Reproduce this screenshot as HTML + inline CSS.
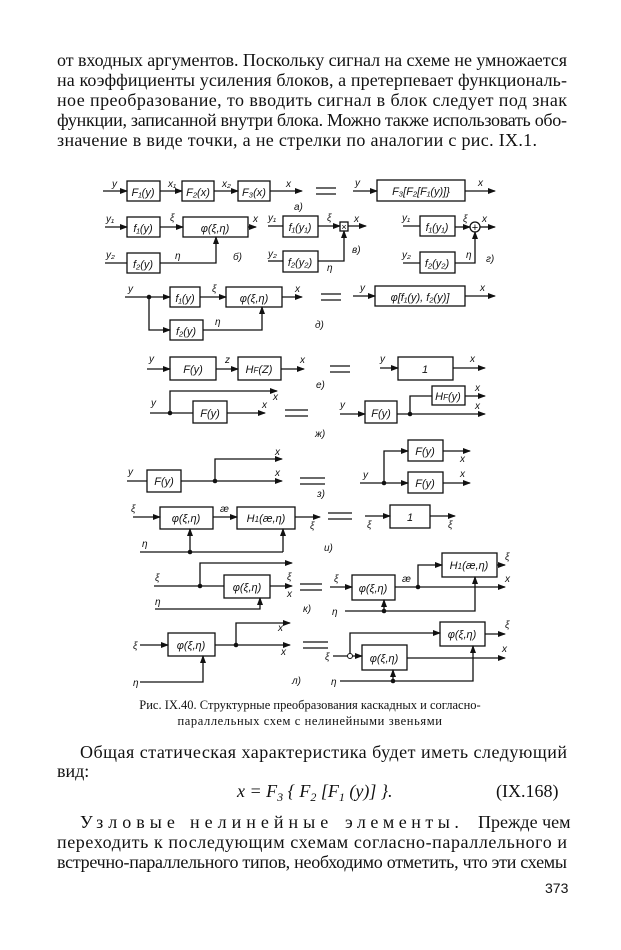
<!DOCTYPE html>
<html><head><meta charset="utf-8"><style>
html,body{margin:0;padding:0;background:#fff}
svg{display:block}
.t{font-family:"Liberation Serif","DejaVu Serif",serif;font-size:18px;fill:#111}
.c{font-family:"Liberation Serif","DejaVu Serif",serif;font-size:12.5px;fill:#111}
.d{font-family:"Liberation Sans","DejaVu Sans",sans-serif;font-size:11px;font-style:italic;fill:#111}
.l{font-family:"Liberation Sans","DejaVu Sans",sans-serif;font-size:10px;font-style:italic;fill:#111}
</style></head><body>
<svg width="621" height="950" viewBox="0 0 621 950" xmlns="http://www.w3.org/2000/svg">
<defs><marker id="a" markerWidth="8" markerHeight="6" refX="7" refY="3" orient="auto" markerUnits="userSpaceOnUse"><path d="M0,0 L8,3 L0,6 z" fill="#111"/></marker></defs>
<g class="t">
<text x="57" y="66" textLength="510" lengthAdjust="spacing">от входных аргументов. Поскольку сигнал на схеме не умножается</text>
<text x="57" y="86" textLength="510" lengthAdjust="spacing">на коэффициенты усиления блоков, а претерпевает функциональ-</text>
<text x="57" y="106" textLength="510" lengthAdjust="spacing">ное преобразование, то вводить сигнал в блок следует под знак</text>
<text x="57" y="126" textLength="510" lengthAdjust="spacing">функции, записанной внутри блока. Можно также использовать обо-</text>
<text x="57" y="146" textLength="480" lengthAdjust="spacing">значение в виде точки, а не стрелки по аналогии с рис. IX.1.</text>
<text x="80" y="758" textLength="487" lengthAdjust="spacing">Общая статическая характеристика будет иметь следующий</text>
<text x="57" y="777">вид:</text>
<text x="237" y="797" font-style="italic">x = F<tspan font-size="12" dy="4">3</tspan><tspan dy="-4"> { F</tspan><tspan font-size="12" dy="4">2</tspan><tspan dy="-4"> [F</tspan><tspan font-size="12" dy="4">1</tspan><tspan dy="-4"> (y)] }.</tspan></text>
<text x="496" y="797">(IX.168)</text>
<text x="80" y="828"><tspan letter-spacing="5">Узловые</tspan><tspan x="190" letter-spacing="5">нелинейные</tspan><tspan x="345" letter-spacing="4.5">элементы.</tspan><tspan x="478">Прежде чем</tspan></text>
<text x="57" y="848" textLength="510" lengthAdjust="spacing">переходить к последующим схемам согласно-параллельного и</text>
<text x="57" y="868" textLength="510" lengthAdjust="spacing">встречно-параллельного типов, необходимо отметить, что эти схемы</text>
<text x="545" y="893" font-family="Liberation Sans" font-size="14">373</text>
</g>
<g class="c" text-anchor="middle">
<text x="310" y="709">Рис. IX.40. Структурные преобразования каскадных и согласно-</text>
<text x="310" y="725" letter-spacing="0.6">параллельных схем с нелинейными звеньями</text>
</g>
<g stroke="#111" stroke-width="1.3" fill="none">
<rect x="127" y="181" width="33" height="20"/><rect x="182" y="181" width="32" height="20"/><rect x="238" y="181" width="32" height="20"/>
<line x1="103" y1="191" x2="127" y2="191" marker-end="url(#a)"/><line x1="160" y1="191" x2="182" y2="191" marker-end="url(#a)"/><line x1="214" y1="191" x2="238" y2="191" marker-end="url(#a)"/><line x1="270" y1="191" x2="302" y2="191" marker-end="url(#a)"/>
<line x1="316" y1="188" x2="336" y2="188"/><line x1="316" y1="194" x2="336" y2="194"/>
<rect x="377" y="180" width="88" height="21"/><line x1="353" y1="191" x2="377" y2="191" marker-end="url(#a)"/><line x1="465" y1="191" x2="495" y2="191" marker-end="url(#a)"/>
<rect x="127" y="217" width="33" height="20"/><rect x="183" y="217" width="65" height="20"/><rect x="127" y="253" width="33" height="20"/>
<line x1="105" y1="227" x2="127" y2="227" marker-end="url(#a)"/><line x1="160" y1="227" x2="183" y2="227" marker-end="url(#a)"/><line x1="248" y1="227" x2="256" y2="227" marker-end="url(#a)"/>
<line x1="105" y1="263" x2="127" y2="263"/><polyline points="160,263 216,263 216,237" marker-end="url(#a)"/>
<rect x="283" y="216" width="35" height="21"/><rect x="283" y="251" width="35" height="21"/><rect x="340" y="222" width="8" height="9"/>
<line x1="268" y1="226" x2="283" y2="226"/><line x1="318" y1="226" x2="340" y2="226" marker-end="url(#a)"/><line x1="348" y1="226" x2="366" y2="226" marker-end="url(#a)"/>
<line x1="268" y1="261" x2="283" y2="261"/><polyline points="318,261 344,261 344,231" marker-end="url(#a)"/>
<rect x="420" y="216" width="35" height="20"/><rect x="420" y="252" width="35" height="21"/><circle cx="475" cy="227" r="5"/>
<line x1="403" y1="226" x2="420" y2="226"/><line x1="455" y1="227" x2="470" y2="227" marker-end="url(#a)"/><line x1="480" y1="227" x2="495" y2="227" marker-end="url(#a)"/>
<line x1="403" y1="263" x2="420" y2="263"/><polyline points="455,263 475,263 475,232" marker-end="url(#a)"/>
<rect x="170" y="287" width="30" height="20"/><rect x="226" y="287" width="56" height="20"/><rect x="170" y="320" width="33" height="20"/>
<line x1="125" y1="297" x2="170" y2="297" marker-end="url(#a)"/><line x1="200" y1="297" x2="226" y2="297" marker-end="url(#a)"/><line x1="282" y1="297" x2="302" y2="297" marker-end="url(#a)"/>
<polyline points="149,297 149,330 170,330" marker-end="url(#a)"/><polyline points="203,330 262,330 262,307" marker-end="url(#a)"/>
<line x1="321" y1="294" x2="341" y2="294"/><line x1="321" y1="300" x2="341" y2="300"/>
<rect x="375" y="286" width="90" height="20"/><line x1="353" y1="296" x2="375" y2="296" marker-end="url(#a)"/><line x1="465" y1="296" x2="495" y2="296" marker-end="url(#a)"/>
<rect x="170" y="357" width="46" height="23"/><rect x="238" y="357" width="43" height="23"/>
<line x1="147" y1="369" x2="170" y2="369" marker-end="url(#a)"/><line x1="216" y1="369" x2="238" y2="369" marker-end="url(#a)"/><line x1="281" y1="369" x2="304" y2="369" marker-end="url(#a)"/>
<line x1="330" y1="366" x2="350" y2="366"/><line x1="330" y1="372" x2="350" y2="372"/>
<rect x="398" y="357" width="55" height="23"/><line x1="380" y1="368" x2="398" y2="368" marker-end="url(#a)"/><line x1="453" y1="368" x2="485" y2="368" marker-end="url(#a)"/>
<rect x="193" y="401" width="34" height="22"/>
<line x1="150" y1="413" x2="193" y2="413"/><line x1="227" y1="413" x2="265" y2="413" marker-end="url(#a)"/><polyline points="170,413 170,391 277,391" marker-end="url(#a)"/>
<line x1="285" y1="410" x2="308" y2="410"/><line x1="285" y1="416" x2="308" y2="416"/>
<rect x="365" y="401" width="32" height="22"/><rect x="432" y="386" width="33" height="19"/>
<line x1="340" y1="414" x2="365" y2="414" marker-end="url(#a)"/><line x1="397" y1="414" x2="485" y2="414" marker-end="url(#a)"/><polyline points="410,414 410,396 432,396"/><line x1="465" y1="396" x2="485" y2="396" marker-end="url(#a)"/>
<rect x="147" y="470" width="34" height="22"/>
<line x1="127" y1="481" x2="147" y2="481"/><line x1="181" y1="481" x2="282" y2="481" marker-end="url(#a)"/><polyline points="215,481 215,459 282,459" marker-end="url(#a)"/>
<line x1="300" y1="478" x2="325" y2="478"/><line x1="300" y1="484" x2="325" y2="484"/>
<rect x="408" y="440" width="35" height="21"/><rect x="408" y="472" width="35" height="21"/>
<line x1="360" y1="483" x2="408" y2="483" marker-end="url(#a)"/><polyline points="384,483 384,451 408,451" marker-end="url(#a)"/><line x1="443" y1="451" x2="470" y2="451" marker-end="url(#a)"/><line x1="443" y1="483" x2="470" y2="483" marker-end="url(#a)"/>
<rect x="160" y="507" width="53" height="22"/><rect x="237" y="507" width="58" height="22"/>
<line x1="133" y1="517" x2="160" y2="517" marker-end="url(#a)"/><line x1="213" y1="517" x2="237" y2="517" marker-end="url(#a)"/><line x1="295" y1="517" x2="320" y2="517" marker-end="url(#a)"/>
<line x1="140" y1="552" x2="283" y2="552"/><line x1="190" y1="552" x2="190" y2="529" marker-end="url(#a)"/><line x1="283" y1="552" x2="283" y2="529" marker-end="url(#a)"/>
<line x1="328" y1="513" x2="352" y2="513"/><line x1="328" y1="519" x2="352" y2="519"/>
<rect x="390" y="505" width="40" height="23"/><line x1="365" y1="516" x2="390" y2="516" marker-end="url(#a)"/><line x1="430" y1="516" x2="455" y2="516" marker-end="url(#a)"/>
<rect x="224" y="575" width="46" height="23"/>
<line x1="154" y1="586" x2="224" y2="586"/><line x1="270" y1="586" x2="292" y2="586" marker-end="url(#a)"/><polyline points="200,586 200,563 292,563" marker-end="url(#a)"/>
<polyline points="155,609 260,609 260,598" marker-end="url(#a)"/>
<line x1="300" y1="584" x2="322" y2="584"/><line x1="300" y1="590" x2="322" y2="590"/>
<rect x="352" y="575" width="43" height="25"/><rect x="442" y="553" width="55" height="24"/>
<line x1="330" y1="587" x2="352" y2="587" marker-end="url(#a)"/><line x1="395" y1="587" x2="505" y2="587" marker-end="url(#a)"/><polyline points="418,587 418,565 442,565" marker-end="url(#a)"/><line x1="497" y1="565" x2="505" y2="565" marker-end="url(#a)"/>
<polyline points="345,611 475,611 475,577" marker-end="url(#a)"/><line x1="384" y1="611" x2="384" y2="600" marker-end="url(#a)"/>
<rect x="168" y="633" width="47" height="23"/>
<line x1="140" y1="645" x2="168" y2="645" marker-end="url(#a)"/><line x1="215" y1="645" x2="290" y2="645" marker-end="url(#a)"/><polyline points="236,645 236,623 290,623" marker-end="url(#a)"/>
<polyline points="140,682 203,682 203,656" marker-end="url(#a)"/>
<line x1="303" y1="642" x2="328" y2="642"/><line x1="303" y1="648" x2="328" y2="648"/>
<rect x="362" y="645" width="45" height="25"/><rect x="440" y="622" width="45" height="24"/>
<line x1="333" y1="656" x2="362" y2="656" marker-end="url(#a)"/><line x1="407" y1="658" x2="505" y2="658" marker-end="url(#a)"/><polyline points="350,656 350,633 440,633" marker-end="url(#a)"/><line x1="485" y1="634" x2="505" y2="634" marker-end="url(#a)"/>
<polyline points="340,681 473,681 473,646" marker-end="url(#a)"/><line x1="393" y1="681" x2="393" y2="670" marker-end="url(#a)"/>
</g>
<g fill="#111">
<circle cx="149" cy="297" r="2.3"/><circle cx="170" cy="413" r="2.3"/><circle cx="410" cy="414" r="2.3"/><circle cx="215" cy="481" r="2.3"/><circle cx="384" cy="483" r="2.3"/><circle cx="190" cy="552" r="2.3"/><circle cx="200" cy="586" r="2.3"/><circle cx="418" cy="587" r="2.3"/><circle cx="384" cy="611" r="2.3"/><circle cx="236" cy="645" r="2.3"/><circle cx="393" cy="681" r="2.3"/>
</g>
<circle cx="350" cy="656" r="2.5" fill="#fff" stroke="#111"/>
<text x="475" y="231" font-size="11" text-anchor="middle" font-family="Liberation Sans">+</text>
<text x="344" y="230" font-size="9" text-anchor="middle" font-family="Liberation Sans">×</text>
<g class="d" text-anchor="middle">
<text x="143" y="196">F₁(y)</text><text x="198" y="196">F₂(x)</text><text x="254" y="196">F₃(x)</text><text x="421" y="195">F₃[F₂[F₁(y)]}</text>
<text x="143" y="232">f₁(y)</text><text x="215" y="232">φ(ξ,η)</text><text x="143" y="268">f₂(y)</text>
<text x="300" y="231">f₁(y₁)</text><text x="300" y="266">f₂(y₂)</text><text x="437" y="231">f₁(y₁)</text><text x="437" y="267">f₂(y₂)</text>
<text x="185" y="302">f₁(y)</text><text x="254" y="302">φ(ξ,η)</text><text x="186" y="335">f₂(y)</text><text x="420" y="301">φ[f₁(y), f₂(y)]</text>
<text x="193" y="373">F(y)</text><text x="259" y="373">H<tspan font-size="8">F</tspan>(Z)</text><text x="425" y="373">1</text>
<text x="210" y="417">F(y)</text><text x="381" y="417">F(y)</text><text x="448" y="400">H<tspan font-size="8">F</tspan>(y)</text>
<text x="164" y="485">F(y)</text><text x="425" y="455">F(y)</text><text x="425" y="487">F(y)</text>
<text x="186" y="522">φ(ξ,η)</text><text x="266" y="522">H<tspan font-size="8">1</tspan>(æ,η)</text><text x="410" y="521">1</text>
<text x="247" y="591">φ(ξ,η)</text><text x="373" y="592">φ(ξ,η)</text><text x="469" y="569">H<tspan font-size="8">1</tspan>(æ,η)</text>
<text x="191" y="649">φ(ξ,η)</text><text x="384" y="662">φ(ξ,η)</text><text x="462" y="638">φ(ξ,η)</text>
</g>
<g class="l">
<text x="112" y="187">y</text><text x="168" y="187">x₁</text><text x="222" y="187">x₂</text><text x="286" y="187">x</text><text x="355" y="186">y</text><text x="478" y="186">x</text><text x="294" y="210">a)</text>
<text x="106" y="222">y₁</text><text x="170" y="221">ξ</text><text x="253" y="222">x</text><text x="106" y="258">y₂</text><text x="175" y="259">η</text><text x="233" y="260">б)</text>
<text x="268" y="221">y₁</text><text x="327" y="221">ξ</text><text x="354" y="222">x</text><text x="268" y="257">y₂</text><text x="327" y="271">η</text><text x="352" y="253">в)</text>
<text x="402" y="221">y₁</text><text x="463" y="222">ξ</text><text x="482" y="222">x</text><text x="402" y="258">y₂</text><text x="466" y="258">η</text><text x="486" y="262">г)</text>
<text x="128" y="292">y</text><text x="212" y="292">ξ</text><text x="295" y="292">x</text><text x="215" y="325">η</text><text x="315" y="328">д)</text><text x="360" y="291">y</text><text x="480" y="291">x</text>
<text x="149" y="362">y</text><text x="225" y="363">z</text><text x="300" y="363">x</text><text x="380" y="362">y</text><text x="470" y="362">x</text><text x="316" y="388">е)</text>
<text x="151" y="406">y</text><text x="273" y="400">x</text><text x="262" y="408">x</text><text x="340" y="408">y</text><text x="475" y="391">x</text><text x="475" y="409">x</text><text x="315" y="437">ж)</text>
<text x="128" y="475">y</text><text x="275" y="455">x</text><text x="275" y="476">x</text><text x="363" y="478">y</text><text x="460" y="462">x</text><text x="460" y="477">x</text><text x="317" y="497">з)</text>
<text x="131" y="512">ξ</text><text x="220" y="512">æ</text><text x="310" y="529">ξ</text><text x="142" y="547">η</text><text x="367" y="528">ξ</text><text x="448" y="528">ξ</text><text x="324" y="551">и)</text>
<text x="155" y="581">ξ</text><text x="287" y="580">ξ</text><text x="287" y="597">x</text><text x="155" y="605">η</text><text x="303" y="612">к)</text>
<text x="334" y="582">ξ</text><text x="402" y="582">æ</text><text x="505" y="560">ξ</text><text x="505" y="582">x</text><text x="332" y="615">η</text>
<text x="278" y="631">x</text><text x="281" y="655">x</text><text x="133" y="649">ξ</text><text x="133" y="686">η</text><text x="292" y="684">л)</text>
<text x="325" y="660">ξ</text><text x="505" y="628">ξ</text><text x="502" y="652">x</text><text x="331" y="685">η</text>
</g>
</svg>
</body></html>
